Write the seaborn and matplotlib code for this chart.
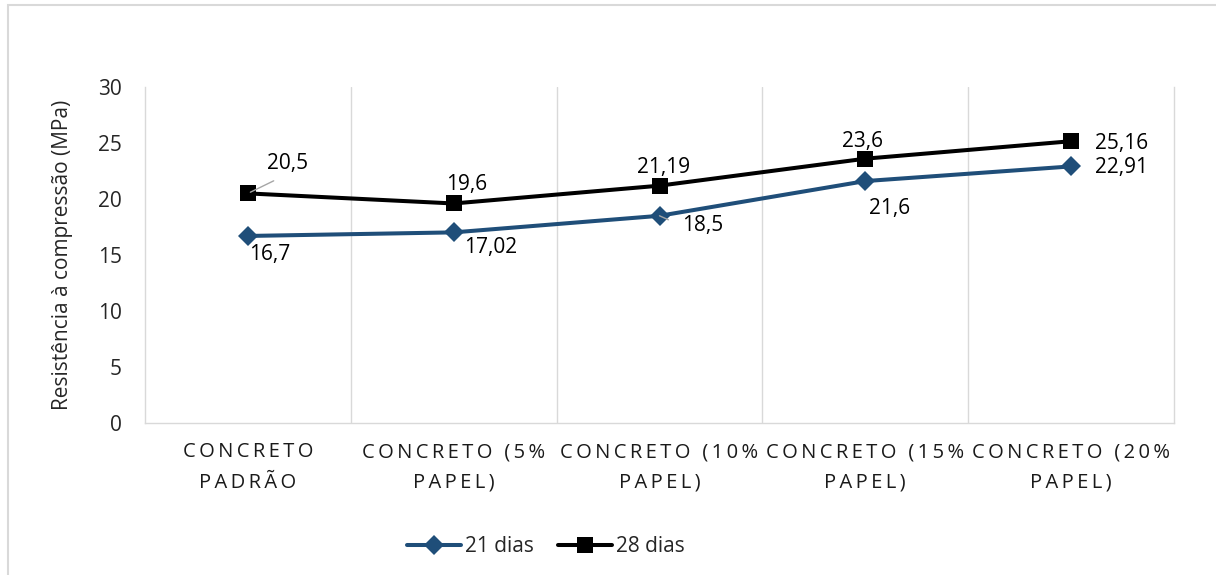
import pandas as pd
import matplotlib
matplotlib.use('Agg')
import matplotlib.pyplot as plt
import seaborn as sns
import numpy as np
from matplotlib.patches import Rectangle

# dados
categorias = ['CONCRETO PADRÃO', 'CONCRETO (5% PAPEL)', 'CONCRETO (10% PAPEL)',
              'CONCRETO (15% PAPEL)', 'CONCRETO (20% PAPEL)']
rotulos_x = [('CONCRETO', 'PADRÃO'), ('CONCRETO (5%', 'PAPEL)'), ('CONCRETO (10%', 'PAPEL)'),
             ('CONCRETO (15%', 'PAPEL)'), ('CONCRETO (20%', 'PAPEL)')]
dias21 = [16.7, 17.02, 18.5, 21.6, 22.91]
dias28 = [20.5, 19.6, 21.19, 23.6, 25.16]
series = ['21 dias', '28 dias']
yticks = [0, 5, 10, 15, 20, 25, 30]

sns.set_style('white')
plt.rcParams['font.family'] = ['Open Sans', 'DejaVu Sans']

fig = plt.figure(figsize=(12.16, 5.75), dpi=100)
ax = fig.add_axes([145/1216, 1-423/575, (1174-145)/1216, (423-87)/575])

pos = list(range(len(categorias)))
df = pd.DataFrame({'pos': pos * 2, 'valor': dias21 + dias28,
                   'serie': [series[0]] * 5 + [series[1]] * 5})

sns.lineplot(data=df[df.serie == '21 dias'], x='pos', y='valor', color='#1F4E79',
             marker='D', markersize=10, markeredgewidth=0, linewidth=2.9,
             label='21 dias', ax=ax)
sns.lineplot(data=df[df.serie == '28 dias'], x='pos', y='valor', color='#000000',
             marker='s', markersize=12, markeredgewidth=0, linewidth=2.9,
             label='28 dias', ax=ax)

# rótulos de dados (deslocamentos em pixels)
desl21 = [(22, -19), (37, -15), (43, -10), (24, -27), (50, -1)]
desl28 = [(40, 30), (13, 19), (4, 18), (-3, 17), (50, -2)]
for i in range(5):
    for nome, vals, desl in [('21', dias21, desl21), ('28', dias28, desl28)]:
        txt = f'{vals[i]:g}'.replace('.', ',')
        kw = {}
        if nome == '28' and i == 0:
            kw['arrowprops'] = dict(arrowstyle='-', color='#A6A6A6', lw=1,
                                    relpos=(0.5, 0), shrinkA=6, shrinkB=2)
        if nome == '21' and i == 2:
            kw['arrowprops'] = dict(arrowstyle='-', color='#A6A6A6', lw=1,
                                    relpos=(0, 0.5), shrinkA=8, shrinkB=0)
        ax.annotate(txt, (pos[i], vals[i]), xytext=desl[i], textcoords='offset pixels',
                    ha='center', va='center', fontsize=15, color='black', **kw)


def espacar(s):
    # espaçamento entre letras, como no Excel
    return '\u2009 \u2009'.join('\u2009'.join(w) for w in s.split(' '))


ax.set_xlim(-0.5, 4.5)
ax.set_ylim(0, 30)
ax.set_yticks(yticks)
ax.set_yticklabels([str(v) for v in yticks], fontsize=15)
ax.set_xticks(pos)
ax.set_xticklabels([espacar(a) + '\n' + espacar(b) for a, b in rotulos_x],
                   fontsize=14.5, linespacing=1.7, color='#1a1a1a')
ax.tick_params(axis='both', length=0)
ax.tick_params(axis='y', pad=16.5)
ax.tick_params(axis='x', pad=14)
ax.set_xticks([0.5, 1.5, 2.5, 3.5], minor=True)
ax.grid(False)
ax.grid(True, which='minor', axis='x', color='#D9D9D9', lw=1)
ax.set_xlabel('')
ax.set_ylabel('Resistência à compressão (MPa)', fontsize=15)
ax.yaxis.set_label_coords(-72/1029, 0.5)
for s in ['left', 'bottom', 'right']:
    ax.spines[s].set_color('#D9D9D9')
    ax.spines[s].set_linewidth(1)
ax.spines['top'].set_visible(False)

h, l = ax.get_legend_handles_labels()
ax.get_legend().remove()
fig.legend(h, l, loc='center', bbox_to_anchor=(546/1216, 1-547/575), ncol=2,
           frameon=False, fontsize=15, handlelength=2.6, handletextpad=0.2,
           columnspacing=1.15)

# borda da área do gráfico
fig.add_artist(Rectangle((8/1216, -0.2), 2, 1-5/575+0.2, transform=fig.transFigure,
                         fill=False, ec='#D9D9D9', lw=1.5))

fig.savefig('out.png', dpi=100)
